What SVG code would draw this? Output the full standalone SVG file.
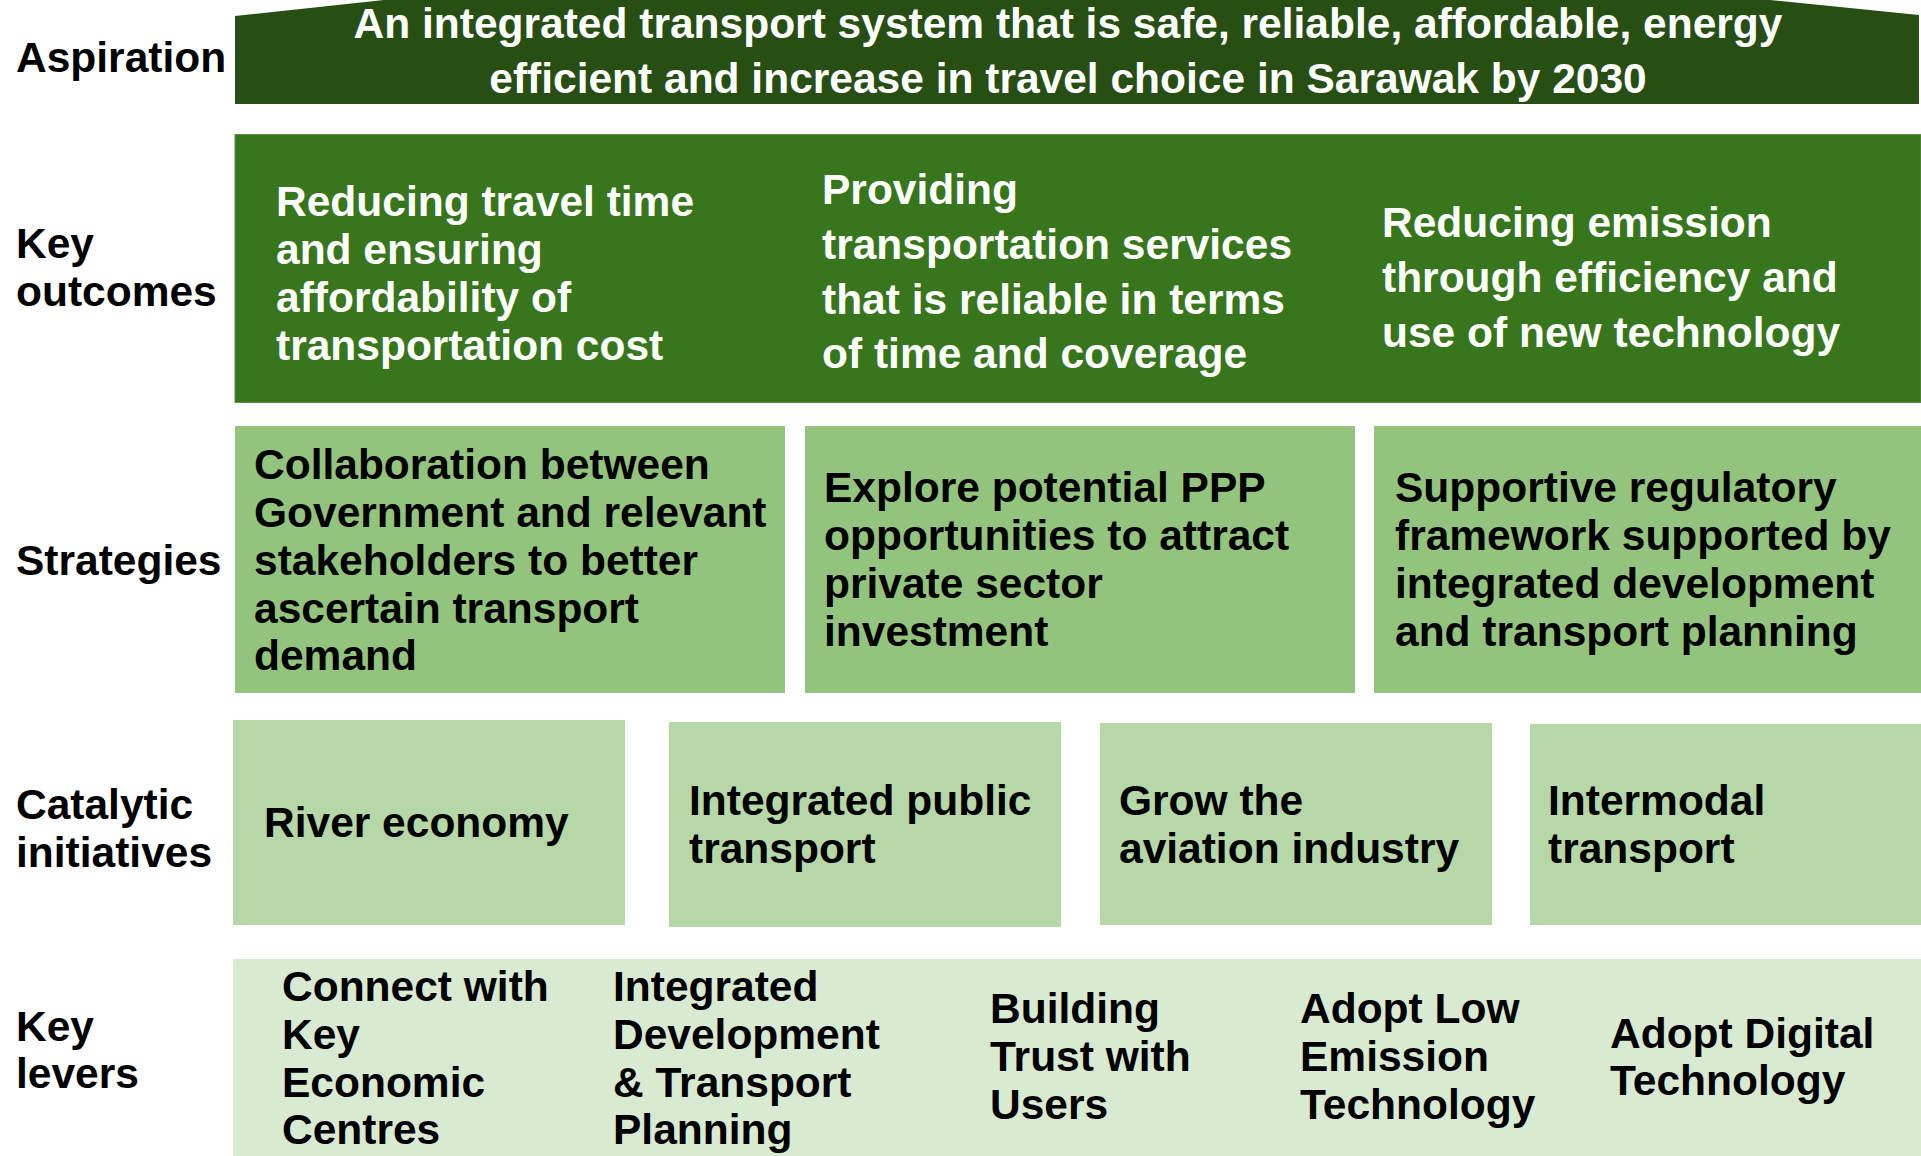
<svg xmlns="http://www.w3.org/2000/svg" width="1921" height="1156" viewBox="0 0 1921 1156">
<style>
text{font-family:"Liberation Sans",Arial,sans-serif;font-weight:bold;font-size:42.5px}
.lbl{fill:#000}
.w{fill:#fff}
.b{fill:#000}
.asp{fill:#274e13}
.out{fill:#38761d;stroke:#5d8f47;stroke-width:1}
.str{fill:#93c47d}
.cat{fill:#b6d7a8}
.lev{fill:#d9ead3}
</style>
<rect width="1921" height="1156" fill="#fff"/>
<g id="labels">
<text class="lbl" x="16" y="72">Aspiration</text>
<text class="lbl" x="16" y="258">Key</text>
<text class="lbl" x="16" y="306">outcomes</text>
<text class="lbl" x="16" y="575">Strategies</text>
<text class="lbl" x="16" y="819">Catalytic</text>
<text class="lbl" x="16" y="867">initiatives</text>
<text class="lbl" x="16" y="1041">Key</text>
<text class="lbl" x="16" y="1088">levers</text>
</g>
<g id="aspiration">
<polygon class="asp" points="235,16 384,0 1770,0 1919,15 1919,104 235,104"/>
<text class="w" x="1068" y="38" text-anchor="middle">An integrated transport system that is safe, reliable, affordable, energy</text>
<text class="w" x="1068" y="93" text-anchor="middle">efficient and increase in travel choice in Sarawak by 2030</text>
</g>
<g id="key-outcomes">
<rect class="out" x="235" y="134.5" width="1686" height="268"/>
<text class="w" x="276" y="216">Reducing travel time</text>
<text class="w" x="276" y="264">and ensuring</text>
<text class="w" x="276" y="312">affordability of</text>
<text class="w" x="276" y="360">transportation cost</text>
<text class="w" x="822" y="204">Providing</text>
<text class="w" x="822" y="259">transportation services</text>
<text class="w" x="822" y="314">that is reliable in terms</text>
<text class="w" x="822" y="368">of time and coverage</text>
<text class="w" x="1382" y="237">Reducing emission</text>
<text class="w" x="1382" y="292">through efficiency and</text>
<text class="w" x="1382" y="347">use of new technology</text>
</g>
<g id="strategy-1">
<rect class="str" x="235" y="426" width="550" height="267"/>
<text class="b" x="254" y="479">Collaboration between</text>
<text class="b" x="254" y="527">Government and relevant</text>
<text class="b" x="254" y="575">stakeholders to better</text>
<text class="b" x="254" y="623">ascertain transport</text>
<text class="b" x="254" y="670">demand</text>
</g>
<g id="strategy-2">
<rect class="str" x="805" y="426" width="550" height="267"/>
<text class="b" x="824" y="502">Explore potential PPP</text>
<text class="b" x="824" y="550">opportunities to attract</text>
<text class="b" x="824" y="598">private sector</text>
<text class="b" x="824" y="646">investment</text>
</g>
<g id="strategy-3">
<rect class="str" x="1374" y="426" width="547" height="267"/>
<text class="b" x="1395" y="502">Supportive regulatory</text>
<text class="b" x="1395" y="550">framework supported by</text>
<text class="b" x="1395" y="598">integrated development</text>
<text class="b" x="1395" y="646">and transport planning</text>
</g>
<g id="initiative-1">
<rect class="cat" x="233" y="720" width="392" height="205"/>
<text class="b" x="264" y="837">River economy</text>
</g>
<g id="initiative-2">
<rect class="cat" x="669" y="722" width="392" height="205"/>
<text class="b" x="689" y="815">Integrated public</text>
<text class="b" x="689" y="863">transport</text>
</g>
<g id="initiative-3">
<rect class="cat" x="1100" y="723" width="392" height="202"/>
<text class="b" x="1119" y="815">Grow the</text>
<text class="b" x="1119" y="863">aviation industry</text>
</g>
<g id="initiative-4">
<rect class="cat" x="1530" y="724" width="391" height="201"/>
<text class="b" x="1548" y="815">Intermodal</text>
<text class="b" x="1548" y="863">transport</text>
</g>
<g id="key-levers">
<rect class="lev" x="233" y="959" width="1688" height="197"/>
<text class="b" x="282" y="1001">Connect with</text>
<text class="b" x="282" y="1049">Key</text>
<text class="b" x="282" y="1097">Economic</text>
<text class="b" x="282" y="1144">Centres</text>
<text class="b" x="613" y="1001">Integrated</text>
<text class="b" x="613" y="1049">Development</text>
<text class="b" x="613" y="1097">&amp; Transport</text>
<text class="b" x="613" y="1144">Planning</text>
<text class="b" x="990" y="1023">Building</text>
<text class="b" x="990" y="1071">Trust with</text>
<text class="b" x="990" y="1119">Users</text>
<text class="b" x="1300" y="1023">Adopt Low</text>
<text class="b" x="1300" y="1071">Emission</text>
<text class="b" x="1300" y="1119">Technology</text>
<text class="b" x="1610" y="1048">Adopt Digital</text>
<text class="b" x="1610" y="1095">Technology</text>
</g>
<g id="connectors"></g>
</svg>
